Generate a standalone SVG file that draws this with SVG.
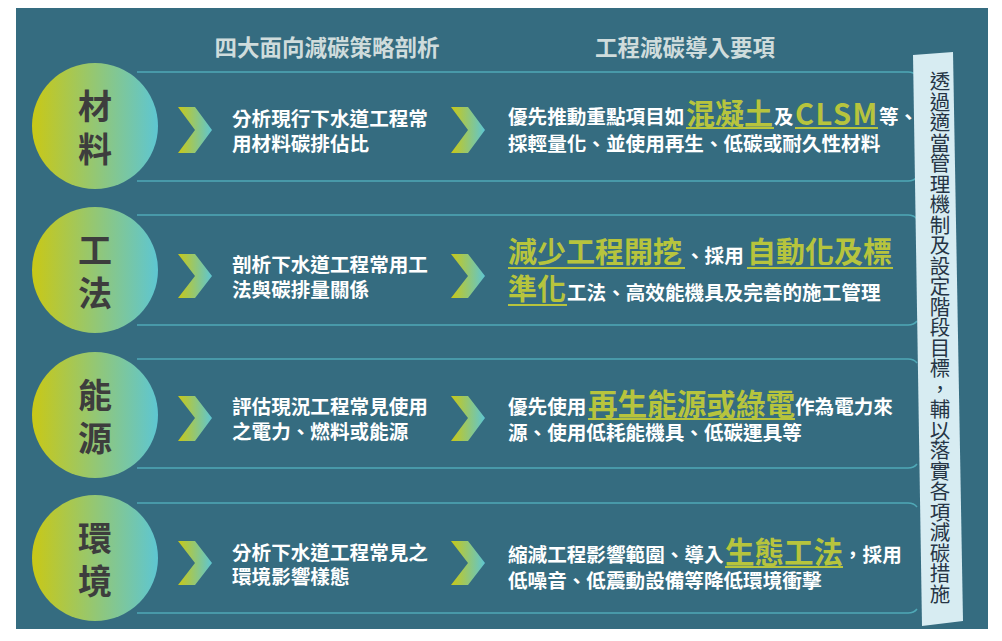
<svg xmlns="http://www.w3.org/2000/svg" width="1002" height="641" viewBox="0 0 1002 641">
<defs>
<linearGradient id="g" x1="0" y1="0" x2="1" y2="0">
<stop offset="0" stop-color="#c9c816"/>
<stop offset="1" stop-color="#5ec6d2"/>
</linearGradient>
<style>
text{font-family:"Noto Sans CJK TC","Noto Sans CJK SC",sans-serif;font-weight:700;}
.hd{font-size:22.5px;fill:#cfdcdc;}
.ct{font-size:34px;fill:#3d3d3d;text-anchor:middle;}
.w{font-size:19.6px;fill:#ffffff;}
.gr{font-size:29px;fill:#b7c43d;}
.ul{stroke:#b7c43d;stroke-width:2;fill:none;}
.rl{stroke:#4fa8b6;stroke-width:1.5;fill:none;}
.vt{font-size:20.5px;font-weight:400;fill:#263545;writing-mode:vertical-rl;}
</style>
</defs>
<rect x="16" y="8" width="972" height="621" fill="#356c80"/>
<g id="headers">
<text class="hd" x="327" y="56" text-anchor="middle">四大面向減碳策略剖析</text>
<text class="hd" x="685" y="56" text-anchor="middle">工程減碳導入要項</text>
</g>
<g id="connectors">
<path class="rl" d="M137,72 H908 Q914,72 917,76"/>
<path class="rl" d="M137,181 H908 Q914,181 917,177"/>
<path class="rl" d="M137,215 H908 Q914,215 917,219"/>
<path class="rl" d="M137,325 H908 Q914,325 917,321"/>
<path class="rl" d="M137,359 H908 Q914,359 917,363"/>
<path class="rl" d="M137,468 H908 Q914,468 917,464"/>
<path class="rl" d="M137,503 H908 Q914,503 917,507"/>
<path class="rl" d="M137,613 H908 Q914,613 917,609"/>
<polygon fill="url(#g)" points="178,107 195,107 212,130 195,153 178,153 195,130"/>
<polygon fill="url(#g)" points="451,107 468,107 485,130 468,153 451,153 468,130"/>
<polygon fill="url(#g)" points="178,254 195,254 212,276 195,298 178,298 195,276"/>
<polygon fill="url(#g)" points="451,254 468,254 485,276 468,298 451,298 468,276"/>
<polygon fill="url(#g)" points="178,396 195,396 212,418 195,441 178,441 195,418"/>
<polygon fill="url(#g)" points="451,396 468,396 485,418 468,441 451,441 468,418"/>
<polygon fill="url(#g)" points="178,541 195,541 212,563 195,585 178,585 195,563"/>
<polygon fill="url(#g)" points="451,541 468,541 485,563 468,585 451,585 468,563"/>
</g>
<g id="node-material">
<circle cx="95" cy="126" r="63" fill="url(#g)"/>
<text class="ct"><tspan x="95" y="119">材</tspan><tspan x="95" y="162">料</tspan></text>
<text class="w"><tspan x="232" y="126">分析現行下水道工程常</tspan><tspan x="232" y="151">用材料碳排佔比</tspan></text>
<text class="w"><tspan x="508" y="124">優先推動重點項目如</tspan><tspan class="gr" x="686" y="125">混凝土</tspan><tspan x="774" y="124">及</tspan><tspan class="gr" x="795" y="125" style="letter-spacing:1.5px">CLSM</tspan><tspan x="879" y="124">等、</tspan><tspan x="508" y="151">採輕量化、並使用再生、低碳或耐久性材料</tspan></text>
<path class="ul" d="M686,128 H774 M795,128 H878"/>
</g>
<g id="node-method">
<circle cx="95" cy="270" r="63" fill="url(#g)"/>
<text class="ct"><tspan x="95" y="263">工</tspan><tspan x="95" y="306">法</tspan></text>
<text class="w"><tspan x="232" y="272">剖析下水道工程常用工</tspan><tspan x="232" y="297">法與碳排量關係</tspan></text>
<text class="w"><tspan class="gr" x="508" y="263">減少工程開挖</tspan><tspan x="685" y="263">、採用</tspan><tspan class="gr" x="747" y="263">自動化及標</tspan><tspan class="gr" x="508" y="300">準化</tspan><tspan x="567" y="300">工法、高效能機具及完善的施工管理</tspan></text>
<path class="ul" d="M508,268 H685 M747,268 H893 M508,305 H567"/>
</g>
<g id="node-energy">
<circle cx="95" cy="415" r="63" fill="url(#g)"/>
<text class="ct"><tspan x="95" y="408">能</tspan><tspan x="95" y="451">源</tspan></text>
<text class="w"><tspan x="232" y="414">評估現況工程常見使用</tspan><tspan x="232" y="439">之電力、燃料或能源</tspan></text>
<text class="w"><tspan x="508" y="414">優先使用</tspan><tspan class="gr" x="588" y="415" style="font-size:29.6px">再生能源或綠電</tspan><tspan x="795" y="414">作為電力來</tspan><tspan x="508" y="440">源、使用低耗能機具、低碳運具等</tspan></text>
<path class="ul" d="M588,419 H795"/>
</g>
<g id="node-environment">
<circle cx="95" cy="558" r="63" fill="url(#g)"/>
<text class="ct"><tspan x="95" y="551">環</tspan><tspan x="95" y="594">境</tspan></text>
<text class="w"><tspan x="232" y="560">分析下水道工程常見之</tspan><tspan x="232" y="584">環境影響樣態</tspan></text>
<text class="w"><tspan x="508" y="562">縮減工程影響範圍、導入</tspan><tspan class="gr" x="725" y="563" style="font-size:29.5px">生態工法</tspan><tspan x="843" y="562">，採用</tspan><tspan x="508" y="588">低噪音、低震動設備等降低環境衝擊</tspan></text>
<path class="ul" d="M725,567 H843"/>
</g>
<g id="banner">
<polygon points="913,55 953,52 963,621 922,626" fill="#d7ecf2"/>
<text class="vt" x="940" y="71">透過適當管理機制及設定階段目標，輔以落實各項減碳措施</text>
</g>
</svg>
